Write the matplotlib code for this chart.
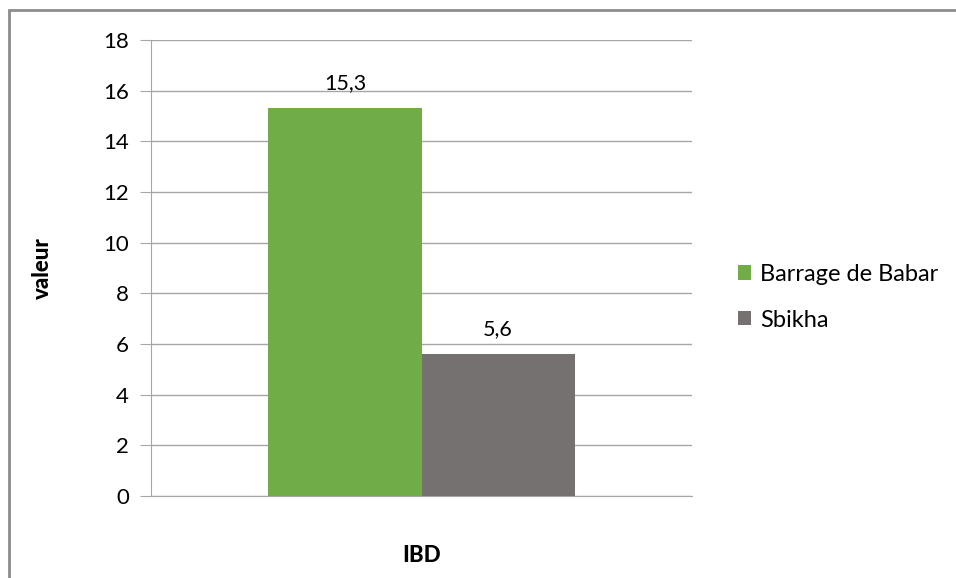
import matplotlib.pyplot as plt
from matplotlib.patches import Rectangle

series = ["Barrage de Babar", "Sbikha"]
values = [15.3, 5.6]
value_labels = ["15,3", "5,6"]
colors = ["#70ad47", "#767171"]
category = "IBD"
y_ticks = [0, 2, 4, 6, 8, 10, 12, 14, 16, 18]

plt.rcParams["font.family"] = ["Lato", "DejaVu Sans"]

fig = plt.figure(figsize=(9.56, 5.78), dpi=100)
ax = fig.add_axes([151 / 956, 1 - 496 / 578, 541 / 956, 456 / 578])

width = 0.283
offsets = [-width / 2, width / 2]
for name, val, lab, col, off in zip(series, values, value_labels, colors, offsets):
    ax.bar(off, val, width=width, color=col, label=name, zorder=3)
    ax.text(off, val + 0.6, lab, ha="center", va="bottom", fontsize=15.5)

ax.set_xlim(-0.5, 0.5)
ax.set_ylim(0, 18)
ax.set_yticks(y_ticks)
ax.set_yticklabels([str(t) for t in y_ticks], fontsize=16)
ax.set_xticks([])
ax.grid(axis="y", color="#a6a6a6", linewidth=1, zorder=0)
ax.tick_params(axis="y", length=8, color="#a6a6a6", pad=8)
for s in ["top", "right"]:
    ax.spines[s].set_visible(False)
ax.spines["left"].set_color("#a6a6a6")
ax.spines["bottom"].set_color("#a6a6a6")

ax.set_ylabel("valeur", fontsize=16, fontweight="black", labelpad=36)
ax.set_xlabel(category, fontsize=16, fontweight="black", labelpad=35)

ax.legend(loc="center left", bbox_to_anchor=(1.045, 0.436), frameon=False,
          fontsize=17, handlelength=0.55, handleheight=0.55, handletextpad=0.4,
          labelspacing=1.05)

# chart border
fig.patches.append(Rectangle((9 / 956, -0.05), 1.0, 1 - 10 / 578 + 0.05,
                             transform=fig.transFigure, fill=False,
                             edgecolor="#8c8c8c", linewidth=2))

fig.savefig("out.png", dpi=100)
